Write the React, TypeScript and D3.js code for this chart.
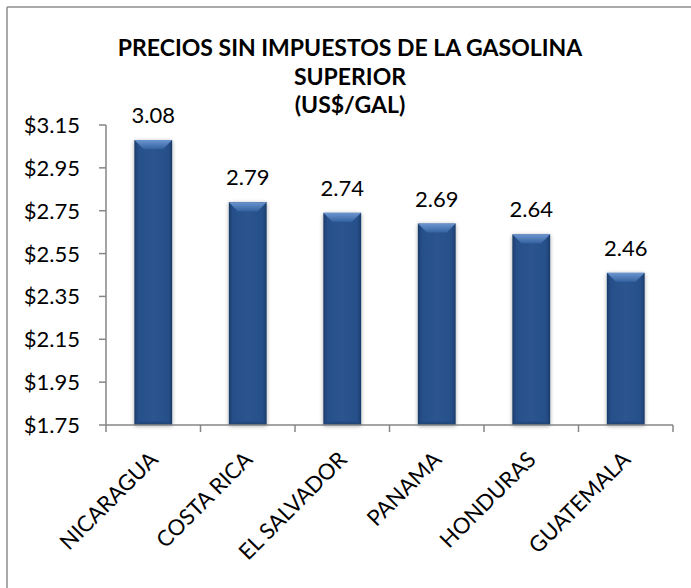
import React from "react";
import * as d3 from "d3";

const categories = ["NICARAGUA", "COSTA RICA", "EL SALVADOR", "PANAMA", "HONDURAS", "GUATEMALA"];
const values = [3.08, 2.79, 2.74, 2.69, 2.64, 2.46];
const yTicks = [1.75, 1.95, 2.15, 2.35, 2.55, 2.75, 2.95, 3.15];
const titleLines = ["PRECIOS SIN IMPUESTOS DE LA GASOLINA", "SUPERIOR", "(US$/GAL)"];

const W = 691;
const H = 588;
const X0 = 106;
const X1 = 673;
const Y0 = 425;
const Y1 = 125;
const FONT = "Lato, 'Open Sans', sans-serif";

export default function App() {
  const x = d3.scaleBand<string>().domain(categories).range([X0, X1]).paddingInner(0.6).paddingOuter(0.3);
  const y = d3.scaleLinear().domain([1.75, 3.15]).range([Y0, Y1]);
  const step = x.step();
  const bw = x.bandwidth();
  const axisColor = "#868686";
  const bev = 9;

  return (
    <div style={{ position: "absolute", left: 0, top: 0 }}>
      <svg width={W} height={H} style={{ display: "block" }}>
        <defs>
          <linearGradient id="body" x1="0" x2="1" y1="0" y2="0">
            <stop offset="0" stopColor="#1a3a66" />
            <stop offset="0.1" stopColor="#27508a" />
            <stop offset="0.5" stopColor="#2a548e" />
            <stop offset="0.9" stopColor="#27508a" />
            <stop offset="1" stopColor="#1a3a66" />
          </linearGradient>
          <linearGradient id="bevTop" x1="0" x2="0" y1="0" y2="1">
            <stop offset="0" stopColor="#6b95cf" />
            <stop offset="1" stopColor="#3563a1" />
          </linearGradient>
          <linearGradient id="bevBot" x1="0" x2="0" y1="0" y2="1">
            <stop offset="0" stopColor="#26508a" />
            <stop offset="1" stopColor="#1d406f" />
          </linearGradient>
          <filter id="shadow" x="-30%" y="-10%" width="160%" height="120%">
            <feGaussianBlur in="SourceAlpha" stdDeviation="2" />
            <feOffset dx="0" dy="1" result="b" />
            <feComponentTransfer><feFuncA type="linear" slope="0.35" /></feComponentTransfer>
            <feMerge>
              <feMergeNode />
              <feMergeNode in="SourceGraphic" />
            </feMerge>
          </filter>
        </defs>
        <rect x={0} y={0} width={W} height={H} fill="#ffffff" />
        {/* outer frame (left and top) */}
        <line x1={7} y1={7} x2={W} y2={7} stroke="#8c8c8c" strokeWidth={1.5} />
        <line x1={7} y1={7} x2={7} y2={H} stroke="#8c8c8c" strokeWidth={1.5} />

        {/* title */}
        {titleLines.map((t, i) => (
          <text key={t} x={350} y={56 + i * 28.5} textAnchor="middle" fontFamily={FONT} fontWeight="bold" fontSize={23} fill="#000">
            {t}
          </text>
        ))}

        {/* bars */}
        {categories.map((c, i) => {
          const bx = x(c)!;
          const top = y(values[i]);
          const h = Y0 - top;
          return (
            <g key={c} filter="url(#shadow)">
              <rect x={bx} y={top} width={bw} height={h} fill="url(#body)" />
              <polygon
                points={`${bx},${top} ${bx + bw},${top} ${bx + bw - bev},${top + bev} ${bx + bev},${top + bev}`}
                fill="url(#bevTop)"
              />
              <polygon
                points={`${bx},${Y0} ${bx + bw},${Y0} ${bx + bw - 4},${Y0 - 4} ${bx + 4},${Y0 - 4}`}
                fill="url(#bevBot)"
              />
            </g>
          );
        })}

        {/* value labels */}
        {categories.map((c, i) => (
          <text key={c} x={x(c)! + bw / 2} y={y(values[i]) - 17} textAnchor="middle" fontFamily={FONT} fontSize={22} fill="#000">
            {values[i].toFixed(2)}
          </text>
        ))}

        {/* y axis */}
        <line x1={X0} y1={Y1} x2={X0} y2={Y0} stroke={axisColor} strokeWidth={1.5} />
        {yTicks.map((t) => (
          <g key={t}>
            <line x1={X0 - 7} x2={X0} y1={y(t)} y2={y(t)} stroke={axisColor} strokeWidth={1.5} />
            <text x={80} y={y(t) + 8} textAnchor="end" fontFamily={FONT} fontSize={22} fill="#000">
              {"$" + t.toFixed(2)}
            </text>
          </g>
        ))}

        {/* x axis */}
        <line x1={X0} y1={Y0} x2={X1} y2={Y0} stroke={axisColor} strokeWidth={1.5} />
        {d3.range(categories.length + 1).map((i) => (
          <line key={i} x1={X0 + i * step} x2={X0 + i * step} y1={Y0} y2={Y0 + 7} stroke={axisColor} strokeWidth={1.5} />
        ))}
        {categories.map((c) => {
          const ax = x(c)! + bw / 2 + 6;
          const ay = 461;
          return (
            <text key={c} x={ax} y={ay} textAnchor="end" transform={`rotate(-45 ${ax} ${ay})`} fontFamily={FONT} fontSize={22} fill="#000">
              {c}
            </text>
          );
        })}
      </svg>
    </div>
  );
}
